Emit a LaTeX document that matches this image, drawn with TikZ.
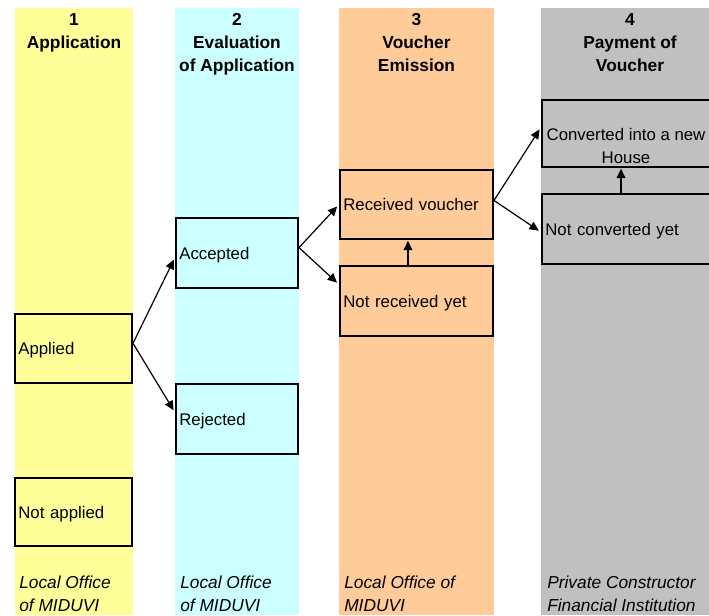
\documentclass[tikz,border=0pt]{standalone}
\usepackage{fontspec}
\setmainfont{Liberation Sans}
\usetikzlibrary{arrows.meta}

\definecolor{applycol}{HTML}{FFFF99}
\definecolor{evalcol}{HTML}{CCFFFF}
\definecolor{vouchercol}{HTML}{FFCC99}
\definecolor{paycol}{HTML}{C0C0C0}

\begin{document}
\begin{tikzpicture}[x=0.75pt,y=-0.75pt,
	stage/.style 2 args={draw,line width=1.5pt,inner xsep=2.5pt,inner ysep=0pt,text width=#1,minimum height=#2,text depth=0pt,align=left,font=\fontsize{12.6}{17.25}\selectfont},
	flow/.style={-{Triangle[length=7pt,width=6.5pt]},line width=0.9pt,shorten >=2pt},
	head/.style={font=\bfseries\fontsize{13}{17.25}\selectfont,align=center,anchor=north,inner sep=0pt},
	foot/.style={font=\itshape\fontsize{13}{17.25}\selectfont,align=left,anchor=north west,inner sep=0pt}]
	\useasboundingbox (0,0) rectangle (709,615);
	\clip (0,0) rectangle (709,615);
	
	\foreach \l/\r/\c in {15/133/applycol, 175/299/evalcol, 339/494/vouchercol, 541/720/paycol}
		\fill [\c] (\l,8) rectangle (\r,615);
	
	\node [head] (h1) at (74,13.3) {1\\Application};
	\node [head] (h2) at (237,13.3) {2\\Evaluation\\of Application};
	\node [head] (h3) at (416.5,13.3) {3\\Voucher\\Emission};
	\node [head] (h4) at (630,13.3) {4\\Payment of\\Voucher};
	
	\node [stage={82.75pt}{51.75pt}] (applied) at (73.5,348.5) {Applied};
	\node [stage={82.75pt}{51pt}] (notapplied) at (73.5,512) {Not applied};
	\node [stage={86.5pt}{52.5pt}] (accepted) at (237,253) {Accepted};
	\node [stage={86.5pt}{52.5pt}] (rejected) at (237,419) {Rejected};
	\node [stage={109.75pt}{51.75pt}] (received) at (416.5,204.5) {Received voucher};
	\node [stage={109.75pt}{52.5pt}] (notreceived) at (416.5,301) {Not received yet};
	\node [stage={128.5pt}{50.25pt}] (converted) at (631,133.5) {};
	\node [align=center,inner sep=0pt,font=\fontsize{12.6}{17.25}\selectfont] (convertedtext) at (626,146) {Converted into a new\\House};
	\node [stage={128.5pt}{52.5pt}] (notconverted) at (631,229) {Not converted yet};
	
	\draw [flow] (applied.5) -- (accepted.184);
	\draw [flow] (applied.5) -- (rejected.174);
	\draw [flow] (accepted.5) -- (received.west);
	\draw [flow] (accepted.5) -- (notreceived.168);
	\draw [flow] (received.3) -- (converted.176);
	\draw [flow] (received.3) -- (notconverted.182);
	\draw [flow,shorten >=0.5pt] ([xshift=-6.4pt]notreceived.north) -- ([xshift=-6.4pt]received.south);
	\draw [flow,shorten >=0.5pt] ([xshift=-7.5pt]notconverted.north) -- ([xshift=-7.5pt]converted.south);
	
	\node [foot] (f1) at (19,576) {Local Office\\of MIDUVI};
	\node [foot] (f2) at (180,576) {Local Office\\of MIDUVI};
	\node [foot] (f3) at (344,576) {Local Office of\\MIDUVI};
	\node [foot] (f4) at (547,576) {Private Constructor\\Financial Institution};
\end{tikzpicture}
\end{document}
